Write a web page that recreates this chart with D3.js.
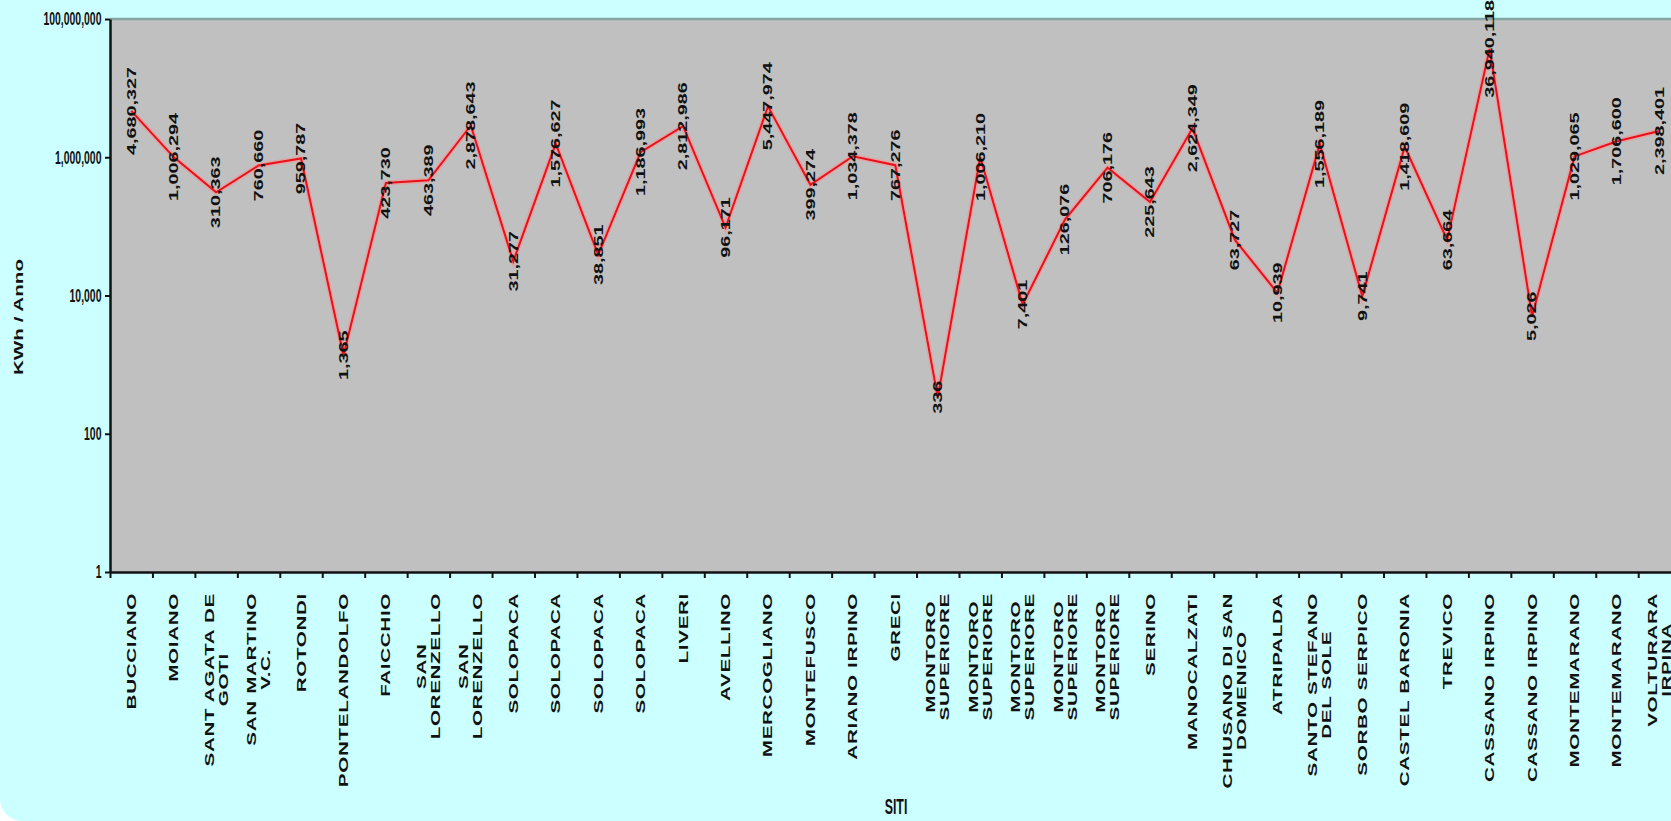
<!DOCTYPE html>
<html><head><meta charset="utf-8">
<script src="https://cdn.jsdelivr.net/npm/d3@7"></script>
<style>html,body{margin:0;padding:0;background:#fff;overflow:hidden}</style>
</head><body>
<svg id="c" width="1671" height="821"></svg>
<script>
const categories = [
  "BUCCIANO", "MOIANO", "SANT AGATA DE\nGOTI", "SAN MARTINO\nV.C.", "ROTONDI",
  "PONTELANDOLFO", "FAICCHIO", "SAN\nLORENZELLO", "SAN\nLORENZELLO",
  "SOLOPACA", "SOLOPACA", "SOLOPACA", "SOLOPACA", "LIVERI", "AVELLINO",
  "MERCOGLIANO", "MONTEFUSCO", "ARIANO IRPINO", "GRECI",
  "MONTORO\nSUPERIORE", "MONTORO\nSUPERIORE", "MONTORO\nSUPERIORE", "MONTORO\nSUPERIORE", "MONTORO\nSUPERIORE",
  "SERINO", "MANOCALZATI", "CHIUSANO DI SAN\nDOMENICO", "ATRIPALDA", "SANTO STEFANO\nDEL SOLE",
  "SORBO SERPICO", "CASTEL BARONIA", "TREVICO", "CASSANO IRPINO", "CASSANO IRPINO",
  "MONTEMARANO", "MONTEMARANO", "VOLTURARA\nIRPINA"
];
const values = [
  4680327, 1006294, 310363, 760660, 959787,
  1365, 423730, 463389, 2878643,
  31277, 1576627, 38851, 1186993, 2812986, 96171,
  5447974, 399274, 1034378, 767276,
  336, 1006210, 7401, 126076, 706176,
  225643, 2624349, 63727, 10939, 1556189,
  9741, 1418609, 63664, 36940118, 5026,
  1029065, 1706600, 2398401
];
const yTickValues = [1, 100, 10000, 1000000, 100000000];
const yTitle = "KWh / Anno";
const xTitle = "SITI";

(function () {
const W = 1671, H = 821;
const K = 1.65; // vertical stretch of all text
const FONT = "'Liberation Sans', Arial, sans-serif";
const n = categories.length;
const pLeft = 110, pTop = 19, pBottom = 572, step = 42.45;

const svg = d3.select("#c");
svg.append("rect").attr("x", 0).attr("y", -40).attr("width", W + 60).attr("height", H + 40)
  .attr("rx", 22).attr("fill", "#ccffff");

const x = d3.scaleBand().domain(d3.range(n)).range([pLeft, pLeft + n * step]).padding(0);
const xi = d3.scaleLinear().domain([0, n]).range([pLeft, pLeft + n * step]);
const y = d3.scaleLog().domain([1, 1e8]).range([pBottom, pTop]);

svg.append("rect").attr("x", pLeft).attr("y", pTop).attr("width", n * step).attr("height", pBottom - pTop)
  .attr("fill", "#c0c0c0");
svg.append("line").attr("x1", pLeft).attr("x2", pLeft + n * step).attr("y1", pTop).attr("y2", pTop)
  .attr("stroke", "#86a4a4").attr("stroke-width", 2.5);

// axes
const ya = svg.append("g").attr("transform", `translate(${pLeft},0)`)
  .call(d3.axisLeft(y).tickValues(yTickValues).tickFormat(d3.format(",")).tickSize(5).tickSizeOuter(0).tickPadding(4));
ya.select(".domain").attr("stroke", "#111").attr("stroke-width", 2.5);
ya.selectAll(".tick line").attr("stroke", "#111").attr("stroke-width", 2);
ya.selectAll(".tick text").attr("font-family", FONT).attr("font-weight", "bold").attr("font-size", 11)
  .attr("fill", "#111").attr("transform", `scale(0.95,${K})`);

const xa = svg.append("g").attr("transform", `translate(0,${pBottom})`)
  .call(d3.axisBottom(xi).tickValues(d3.range(n + 1)).tickFormat("").tickSize(6).tickSizeOuter(0));
xa.select(".domain").attr("stroke", "#111").attr("stroke-width", 2.5);
xa.selectAll(".tick line").attr("stroke", "#111").attr("stroke-width", 2);

// line
const cx = i => x(i) + x.bandwidth() / 2;
const line = d3.line().x((d, i) => cx(i)).y(d => y(d));
svg.append("path").datum(values).attr("d", line).attr("fill", "none")
  .attr("stroke", "rgba(255,140,140,0.55)").attr("stroke-width", 5);
svg.append("path").datum(values).attr("d", line).attr("fill", "none")
  .attr("stroke", "#e8101a").attr("stroke-width", 2);

// value labels
svg.append("g").selectAll("text").data(values).join("text")
  .attr("transform", (d, i) => `translate(${cx(i)},${y(d)}) scale(1,${K}) rotate(-90)`)
  .attr("text-anchor", "middle").attr("dy", "0.36em")
  .attr("font-family", FONT).attr("font-weight", "bold").attr("font-size", 12).attr("fill", "#111")
  .text(d => d3.format(",")(d));

// category labels
const catG = svg.append("g");
categories.forEach((c, i) => {
  const lines = c.split("\n");
  const g = catG.append("g").attr("transform", `translate(${cx(i)},593) scale(1,${K}) rotate(-90)`);
  const lh = 14;
  const ts = lines.map((l, j) => g.append("text")
    .attr("font-family", FONT).attr("font-weight", "bold").attr("font-size", 12.5)
    .attr("letter-spacing", 0.4).attr("fill", "#111")
    .attr("y", (j - (lines.length - 1) / 2) * lh).attr("dy", "0.36em").text(l));
  const maxLen = d3.max(ts, t => t.node().getComputedTextLength());
  ts.forEach(t => t.attr("text-anchor", "middle").attr("x", -maxLen / 2));
});

// titles
svg.append("text").attr("transform", `translate(18,317) scale(1,${K}) rotate(-90)`)
  .attr("text-anchor", "middle").attr("dy", "0.36em")
  .attr("font-family", FONT).attr("font-weight", "bold").attr("font-size", 12.5).attr("fill", "#111")
  .text(yTitle);
svg.append("text").attr("transform", `translate(896,814) scale(0.95,${K})`)
  .attr("text-anchor", "middle")
  .attr("font-family", FONT).attr("font-weight", "bold").attr("font-size", 13).attr("fill", "#111")
  .text(xTitle);
})();
</script>
</body></html>
